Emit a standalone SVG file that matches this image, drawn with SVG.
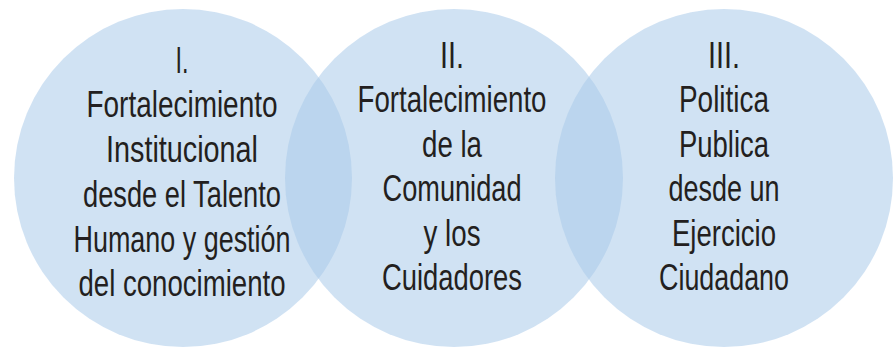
<svg xmlns="http://www.w3.org/2000/svg" width="894" height="348" viewBox="0 0 894 348">
<style>
.c{fill:#aacae9;fill-opacity:0.55}
.t{font-family:"Liberation Sans Narrow","Liberation Sans",Arial,sans-serif;font-size:36px;fill:#231f20;text-anchor:middle}
</style>
<rect width="894" height="348" fill="#ffffff"/>
<g id="n1">
<circle class="c" cx="183" cy="178" r="169"/>
<text class="t"><tspan x="182" y="73" textLength="13" lengthAdjust="spacingAndGlyphs">I.</tspan><tspan x="182" y="117" textLength="191" lengthAdjust="spacingAndGlyphs">Fortalecimiento</tspan><tspan x="182" y="162" textLength="152" lengthAdjust="spacingAndGlyphs">Institucional</tspan><tspan x="182" y="207" textLength="198" lengthAdjust="spacingAndGlyphs">desde el Talento</tspan><tspan x="182" y="252" textLength="217" lengthAdjust="spacingAndGlyphs">Humano y gestión</tspan><tspan x="182" y="296" textLength="207" lengthAdjust="spacingAndGlyphs">del conocimiento</tspan></text>
</g>
<g id="n2">
<circle class="c" cx="454" cy="178" r="169"/>
<text class="t"><tspan x="452" y="68" textLength="24" lengthAdjust="spacingAndGlyphs">II.</tspan><tspan x="452" y="112" textLength="189" lengthAdjust="spacingAndGlyphs">Fortalecimiento</tspan><tspan x="452" y="157" textLength="60" lengthAdjust="spacingAndGlyphs">de la</tspan><tspan x="452" y="201" textLength="139" lengthAdjust="spacingAndGlyphs">Comunidad</tspan><tspan x="452" y="246" textLength="57" lengthAdjust="spacingAndGlyphs">y los</tspan><tspan x="452" y="290" textLength="140" lengthAdjust="spacingAndGlyphs">Cuidadores</tspan></text>
</g>
<g id="n3">
<circle class="c" cx="724" cy="178" r="169"/>
<text class="t"><tspan x="724" y="68" textLength="32" lengthAdjust="spacingAndGlyphs">III.</tspan><tspan x="724" y="112" textLength="90" lengthAdjust="spacingAndGlyphs">Politica</tspan><tspan x="724" y="157" textLength="90" lengthAdjust="spacingAndGlyphs">Publica</tspan><tspan x="724" y="201" textLength="111" lengthAdjust="spacingAndGlyphs">desde un</tspan><tspan x="724" y="246" textLength="104" lengthAdjust="spacingAndGlyphs">Ejercicio</tspan><tspan x="724" y="290" textLength="130" lengthAdjust="spacingAndGlyphs">Ciudadano</tspan></text>
</g>
<g id="connectors"></g>
</svg>
